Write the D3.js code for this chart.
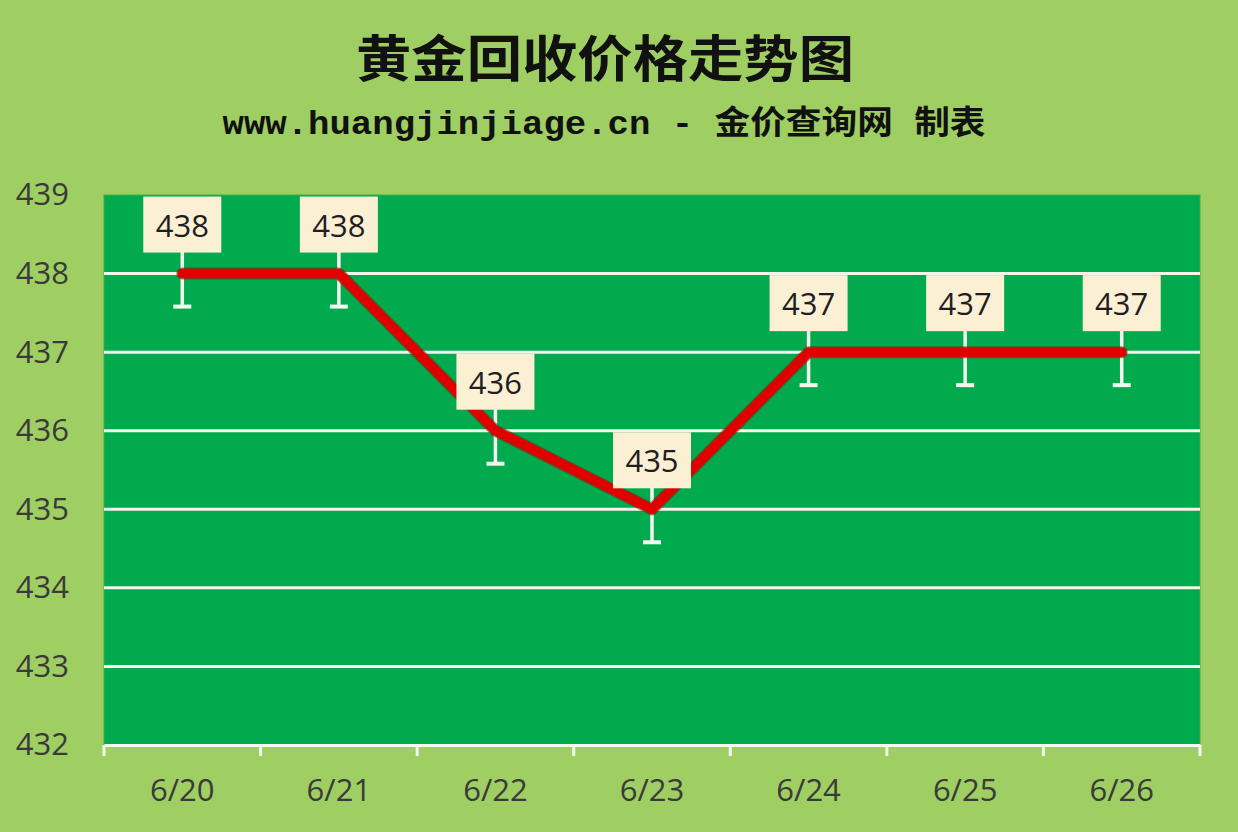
<!DOCTYPE html>
<html><head><meta charset="utf-8">
<script src="https://cdn.jsdelivr.net/npm/d3@7"></script>
<style>html,body{margin:0;padding:0;background:#9fce62;}svg{display:block;}</style>
</head><body>
<svg id="c" width="1238" height="832"></svg>
<script>
const categories = ["6/20","6/21","6/22","6/23","6/24","6/25","6/26"];
const prices = [438,438,436,435,437,437,437];
const yTicks = [432,433,434,435,436,437,438,439];
const errorAmount = 0.42;
const titleText = "黄金回收价格走势图";
const subtitleText = "www.huangjinjiage.cn - 金价查询网 制表";

const W = 1238, H = 832;
const m = {left:104, right:38, top:195, bottom:87};
const svg = d3.select("#c");
svg.append("rect").attr("width",W).attr("height",H).attr("fill","#9fce62");

const x = d3.scaleBand().domain(categories).range([m.left, W-m.right]).padding(0);
const y = d3.scaleLinear().domain([432,439]).range([H-m.bottom, m.top]);

// plot area
svg.append("rect").attr("x",m.left).attr("y",m.top)
  .attr("width",W-m.left-m.right).attr("height",H-m.top-m.bottom)
  .attr("fill","#02aa4e").attr("stroke","#3fae4c").attr("stroke-width",1);

// gridlines
svg.append("g").selectAll("line").data(yTicks.filter(d=>d>432 && d<439)).join("line")
  .attr("x1",m.left).attr("x2",W-m.right)
  .attr("y1",d=>y(d)).attr("y2",d=>y(d))
  .attr("stroke","#f2f7ee").attr("stroke-width",3);

// y axis labels
const ya = svg.append("g").attr("transform",`translate(${m.left},0)`)
  .call(d3.axisLeft(y).tickValues(yTicks).tickSize(0).tickPadding(35).tickFormat(d3.format("d")));
ya.select(".domain").remove();
ya.selectAll("text").attr("font-family","'Open Sans', 'Noto Sans', sans-serif")
  .attr("font-size",31).attr("fill","#3a3a3a");

// x axis
const xa = svg.append("g").attr("transform",`translate(0,${H-m.bottom})`)
  .call(d3.axisBottom(x).tickSize(0).tickPadding(34));
xa.select(".domain").attr("stroke","#f4f8ef").attr("stroke-width",3);
xa.selectAll("text").attr("font-family","'Open Sans', 'Noto Sans', sans-serif")
  .attr("font-size",31).attr("fill","#3a3a3a");
const bounds = categories.map(c=>x(c)).concat([x(categories[categories.length-1])+x.bandwidth()]);
xa.selectAll(".bt").data(bounds).join("line").attr("class","bt")
  .attr("x1",d=>d).attr("x2",d=>d).attr("y1",0).attr("y2",11)
  .attr("stroke","#f4f8ef").attr("stroke-width",3);

const cx = d => x(d) + x.bandwidth()/2;

// error bars
const eb = svg.append("g");
categories.forEach((c,i)=>{
  const px = cx(c);
  eb.append("line").attr("x1",px).attr("x2",px)
    .attr("y1",y(prices[i]+errorAmount)).attr("y2",y(prices[i]-errorAmount))
    .attr("stroke","#f4f8ef").attr("stroke-width",3.5);
  eb.append("line").attr("x1",px-9).attr("x2",px+9)
    .attr("y1",y(prices[i]-errorAmount)).attr("y2",y(prices[i]-errorAmount))
    .attr("stroke","#f4f8ef").attr("stroke-width",4);
});

// line
const line = d3.line().x((d,i)=>cx(categories[i])).y(d=>y(d));
svg.append("path").datum(prices).attr("d",line).attr("fill","none")
  .attr("stroke","#8a1a10").attr("stroke-width",12).attr("stroke-linejoin","round").attr("stroke-linecap","round").attr("opacity",0.6);
svg.append("path").datum(prices).attr("d",line).attr("fill","none")
  .attr("stroke","#e00000").attr("stroke-width",9.5).attr("stroke-linejoin","round").attr("stroke-linecap","round");

// labels
const lg = svg.append("g");
categories.forEach((c,i)=>{
  const px = cx(c), py = y(prices[i]);
  lg.append("rect").attr("x",px-39).attr("y",py-77).attr("width",78).attr("height",56)
    .attr("fill","#fcf0d4");
  lg.append("text").attr("x",px).attr("y",py-37).attr("text-anchor","middle")
    .attr("font-family","'Open Sans', 'Noto Sans', sans-serif").attr("font-size",31)
    .attr("fill","#1e1e1e").text(prices[i]);
});

// titles
svg.append("text").attr("x",605).attr("y",77).attr("text-anchor","middle")
  .attr("font-family","'Noto Sans CJK SC', sans-serif").attr("font-weight",700)
  .attr("font-size",50).attr("fill","#111").attr("textLength",498).attr("lengthAdjust","spacingAndGlyphs").text(titleText);
svg.append("text").attr("x",604).attr("y",134).attr("text-anchor","middle")
  .attr("font-family","'Liberation Mono', 'Noto Sans CJK SC', monospace").attr("font-weight",700)
  .attr("font-size",33).attr("fill","#111").attr("textLength",763).attr("lengthAdjust","spacingAndGlyphs").text(subtitleText);
</script>
</body></html>
